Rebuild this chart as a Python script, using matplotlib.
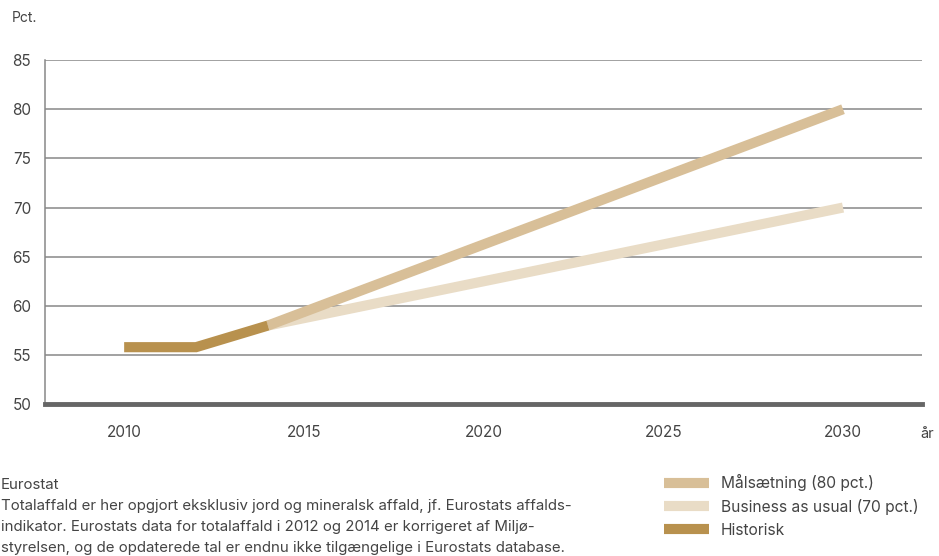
import matplotlib
matplotlib.use("Agg")
from matplotlib import pyplot as plt
from matplotlib.lines import Line2D

# data
hist_years = [2010, 2012, 2014]
hist_values = [55.8, 55.8, 58.0]

goal_years = [2014, 2030]
goal_values = [58.0, 80.0]

bau_years = [2014, 2030]
bau_values = [58.0, 70.0]

x_ticks = [2010, 2015, 2020, 2025, 2030]
y_ticks = [50, 55, 60, 65, 70, 75, 80, 85]

labels = ["Målsætning (80 pct.)", "Business as usual (70 pct.)", "Historisk"]
colors = ["#d8bf98", "#e9dcc6", "#b8914e"]

note_lines = [
    "Eurostat",
    "Totalaffald er her opgjort eksklusiv jord og mineralsk affald, jf. Eurostats affalds-",
    "indikator. Eurostats data for totalaffald i 2012 og 2014 er korrigeret af Miljø-",
    "styrelsen, og de opdaterede tal er endnu ikke tilgængelige i Eurostats database.",
]

plt.rcParams['font.family'] = ['Inter', 'DejaVu Sans']
text_col = '#444444'

fig = plt.figure(figsize=(9.39, 5.56), dpi=100)
ax = fig.add_axes([0.048, 0.273, 0.934, 0.619])

lw = 7.3
ax.plot(bau_years, bau_values, color=colors[1], lw=lw, solid_capstyle='butt', zorder=3)
ax.plot(goal_years, goal_values, color=colors[0], lw=lw, solid_capstyle='butt', zorder=4)
ax.plot(hist_years, hist_values, color=colors[2], lw=lw, solid_capstyle='butt',
        solid_joinstyle='miter', zorder=5)

ax.set_xlim(2007.8, 2032.2)
ax.set_ylim(50, 85)
ax.set_xticks(x_ticks)
ax.set_yticks(y_ticks)
ax.tick_params(length=0, labelsize=11, labelcolor=text_col)
ax.tick_params(axis='x', pad=15)
ax.tick_params(axis='y', pad=10)

for y in y_ticks[1:]:
    ax.axhline(y, color='#888888', lw=1.1, zorder=1)
for s in ['top', 'right']:
    ax.spines[s].set_visible(False)
ax.spines['left'].set_color('#888888')
ax.spines['left'].set_linewidth(1.1)
ax.spines['bottom'].set_color('#666666')
ax.spines['bottom'].set_linewidth(3.5)
ax.spines['bottom'].set_zorder(6)

fig.text(12 / 939, 1 - 18 / 556, "Pct.", fontsize=10, color=text_col, va='center')
fig.text(920 / 939, 1 - 434 / 556, "år", fontsize=10.5, color=text_col, va='center')

for i, line in enumerate(note_lines):
    fig.text(1 / 939, 1 - (485 + i * 21) / 556, line, fontsize=10.8,
             color=text_col, va='center')

handles = [Line2D([0], [0], color=c, lw=7.3, solid_capstyle='butt') for c in colors]
fig.legend(handles, labels, loc='upper left', bbox_to_anchor=(664 / 939, 1 - 474 / 556),
           frameon=False, fontsize=11.2, handlelength=2.9, handletextpad=0.75,
           labelspacing=0.5, labelcolor=text_col, borderpad=0, borderaxespad=0)

fig.savefig("out.png", dpi=100)
